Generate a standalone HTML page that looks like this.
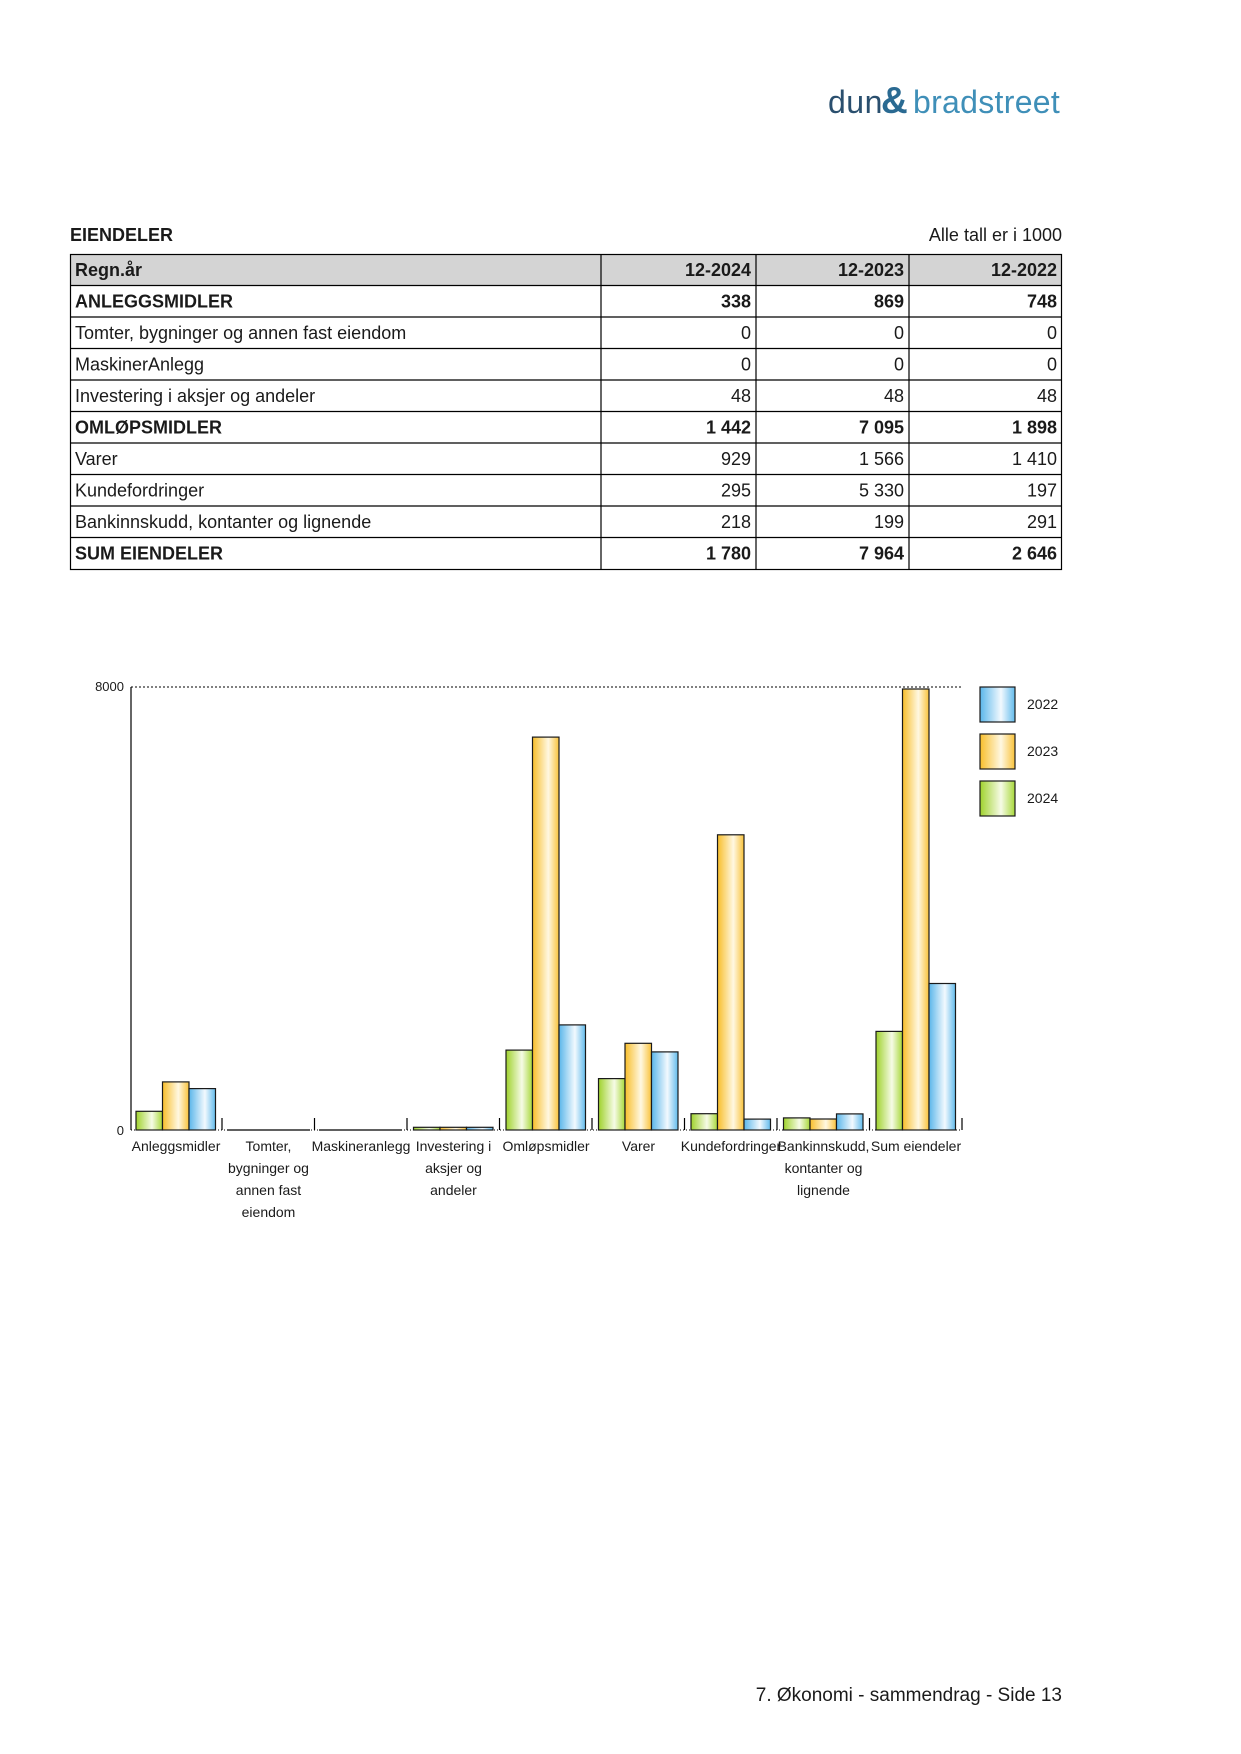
<!DOCTYPE html>
<html><head><meta charset="utf-8"><style>
html,body{margin:0;padding:0;background:#fff;}
svg{display:block;}
text{font-family:"Liberation Sans",sans-serif;fill:#1a1a1a;}
</style></head><body>
<svg width="1241" height="1754" viewBox="0 0 1241 1754" xmlns="http://www.w3.org/2000/svg">
<defs>
<linearGradient id="gG" x1="0" x2="1" y1="0" y2="0"><stop offset="0" stop-color="#9fd22c"/><stop offset="0.6" stop-color="#f6fbe6"/><stop offset="1" stop-color="#a8d83a"/></linearGradient>
<linearGradient id="gO" x1="0" x2="1" y1="0" y2="0"><stop offset="0" stop-color="#f8be2a"/><stop offset="0.6" stop-color="#fff8e2"/><stop offset="1" stop-color="#f9c23a"/></linearGradient>
<linearGradient id="gB" x1="0" x2="1" y1="0" y2="0"><stop offset="0" stop-color="#5ab6ea"/><stop offset="0.6" stop-color="#f2f9fe"/><stop offset="1" stop-color="#62bbec"/></linearGradient>
</defs>

<!-- logo -->
<text x="828" y="113" font-size="32" style="fill:#2a4f6e;letter-spacing:0.5px">dun</text>
<text x="881" y="113" font-size="37" font-weight="bold" style="fill:#2a6a92">&amp;</text>
<text x="913" y="113" font-size="32" style="fill:#3f8fb8;letter-spacing:0.3px">bradstreet</text>

<!-- table -->
<text x="70" y="241" font-size="18" font-weight="bold">EIENDELER</text>
<text x="1062" y="241" font-size="18" text-anchor="end">Alle tall er i 1000</text>
<rect x="70" y="254" width="992" height="31.5" fill="#d4d4d4"/>
<g stroke="#000" stroke-width="1.2" fill="none">
<rect x="70.5" y="254.5" width="991" height="315"/>
<line x1="601" y1="254" x2="601" y2="569"/>
<line x1="756" y1="254" x2="756" y2="569"/>
<line x1="909" y1="254" x2="909" y2="569"/>
<line x1="70" y1="285.5" x2="1062" y2="285.5"/>
<line x1="70" y1="317" x2="1062" y2="317"/>
<line x1="70" y1="348.5" x2="1062" y2="348.5"/>
<line x1="70" y1="380" x2="1062" y2="380"/>
<line x1="70" y1="411.5" x2="1062" y2="411.5"/>
<line x1="70" y1="443" x2="1062" y2="443"/>
<line x1="70" y1="474.5" x2="1062" y2="474.5"/>
<line x1="70" y1="506" x2="1062" y2="506"/>
<line x1="70" y1="537.5" x2="1062" y2="537.5"/>
</g>
<g font-size="18">
<text x="75" y="276" font-weight="bold">Regn.år</text>
<text x="751" y="276" text-anchor="end" font-weight="bold">12-2024</text>
<text x="904" y="276" text-anchor="end" font-weight="bold">12-2023</text>
<text x="1057" y="276" text-anchor="end" font-weight="bold">12-2022</text>

<text x="75" y="307.5" font-weight="bold">ANLEGGSMIDLER</text>
<text x="751" y="307.5" text-anchor="end" font-weight="bold">338</text>
<text x="904" y="307.5" text-anchor="end" font-weight="bold">869</text>
<text x="1057" y="307.5" text-anchor="end" font-weight="bold">748</text>

<text x="75" y="339">Tomter, bygninger og annen fast eiendom</text>
<text x="751" y="339" text-anchor="end">0</text>
<text x="904" y="339" text-anchor="end">0</text>
<text x="1057" y="339" text-anchor="end">0</text>

<text x="75" y="370.5">MaskinerAnlegg</text>
<text x="751" y="370.5" text-anchor="end">0</text>
<text x="904" y="370.5" text-anchor="end">0</text>
<text x="1057" y="370.5" text-anchor="end">0</text>

<text x="75" y="402">Investering i aksjer og andeler</text>
<text x="751" y="402" text-anchor="end">48</text>
<text x="904" y="402" text-anchor="end">48</text>
<text x="1057" y="402" text-anchor="end">48</text>

<text x="75" y="433.5" font-weight="bold">OMLØPSMIDLER</text>
<text x="751" y="433.5" text-anchor="end" font-weight="bold">1 442</text>
<text x="904" y="433.5" text-anchor="end" font-weight="bold">7 095</text>
<text x="1057" y="433.5" text-anchor="end" font-weight="bold">1 898</text>

<text x="75" y="465">Varer</text>
<text x="751" y="465" text-anchor="end">929</text>
<text x="904" y="465" text-anchor="end">1 566</text>
<text x="1057" y="465" text-anchor="end">1 410</text>

<text x="75" y="496.5">Kundefordringer</text>
<text x="751" y="496.5" text-anchor="end">295</text>
<text x="904" y="496.5" text-anchor="end">5 330</text>
<text x="1057" y="496.5" text-anchor="end">197</text>

<text x="75" y="528">Bankinnskudd, kontanter og lignende</text>
<text x="751" y="528" text-anchor="end">218</text>
<text x="904" y="528" text-anchor="end">199</text>
<text x="1057" y="528" text-anchor="end">291</text>

<text x="75" y="559.5" font-weight="bold">SUM EIENDELER</text>
<text x="751" y="559.5" text-anchor="end" font-weight="bold">1 780</text>
<text x="904" y="559.5" text-anchor="end" font-weight="bold">7 964</text>
<text x="1057" y="559.5" text-anchor="end" font-weight="bold">2 646</text>
</g>

<!-- chart axes -->
<line x1="131" y1="687" x2="962" y2="687" stroke="#000" stroke-width="1" stroke-dasharray="2,2"/>
<line x1="131" y1="1130" x2="962" y2="1130" stroke="#000" stroke-width="1" stroke-dasharray="1,2"/>
<line x1="131" y1="687" x2="131" y2="1130" stroke="#000" stroke-width="1.2"/>
<text x="124" y="691" font-size="13" text-anchor="end">8000</text>
<text x="124" y="1135" font-size="13" text-anchor="end">0</text>
<g stroke="#000" stroke-width="1.2">
<line x1="222" y1="1118" x2="222" y2="1130"/>
<line x1="314.5" y1="1118" x2="314.5" y2="1130"/>
<line x1="407" y1="1118" x2="407" y2="1130"/>
<line x1="499.5" y1="1118" x2="499.5" y2="1130"/>
<line x1="592" y1="1118" x2="592" y2="1130"/>
<line x1="684.5" y1="1118" x2="684.5" y2="1130"/>
<line x1="777" y1="1118" x2="777" y2="1130"/>
<line x1="869.5" y1="1118" x2="869.5" y2="1130"/>
<line x1="962" y1="1118" x2="962" y2="1130"/>
<line x1="227" y1="1130" x2="310" y2="1130"/>
<line x1="319" y1="1130" x2="402" y2="1130"/>
</g>

<!-- bars -->
<g stroke="#1a1a1a" stroke-width="1.2">
<rect x="136" y="1111.3" width="26.5" height="18.7" fill="url(#gG)"/>
<rect x="162.5" y="1081.9" width="26.5" height="48.1" fill="url(#gO)"/>
<rect x="189" y="1088.6" width="26.5" height="41.4" fill="url(#gB)"/>

<rect x="413.5" y="1127.3" width="26.5" height="2.7" fill="url(#gG)"/>
<rect x="440" y="1127.3" width="26.5" height="2.7" fill="url(#gO)"/>
<rect x="466.5" y="1127.3" width="26.5" height="2.7" fill="url(#gB)"/>

<rect x="506" y="1050.1" width="26.5" height="79.9" fill="url(#gG)"/>
<rect x="532.5" y="737.1" width="26.5" height="392.9" fill="url(#gO)"/>
<rect x="559" y="1024.9" width="26.5" height="105.1" fill="url(#gB)"/>

<rect x="598.5" y="1078.6" width="26.5" height="51.4" fill="url(#gG)"/>
<rect x="625" y="1043.3" width="26.5" height="86.7" fill="url(#gO)"/>
<rect x="651.5" y="1051.9" width="26.5" height="78.1" fill="url(#gB)"/>

<rect x="691" y="1113.7" width="26.5" height="16.3" fill="url(#gG)"/>
<rect x="717.5" y="834.8" width="26.5" height="295.2" fill="url(#gO)"/>
<rect x="744" y="1119.1" width="26.5" height="10.9" fill="url(#gB)"/>

<rect x="783.5" y="1117.9" width="26.5" height="12.1" fill="url(#gG)"/>
<rect x="810" y="1119" width="26.5" height="11" fill="url(#gO)"/>
<rect x="836.5" y="1113.9" width="26.5" height="16.1" fill="url(#gB)"/>

<rect x="876" y="1031.4" width="26.5" height="98.6" fill="url(#gG)"/>
<rect x="902.5" y="689" width="26.5" height="441" fill="url(#gO)"/>
<rect x="929" y="983.5" width="26.5" height="146.5" fill="url(#gB)"/>

<!-- legend boxes -->
<rect x="980" y="687" width="35" height="35" fill="url(#gB)"/>
<rect x="980" y="734" width="35" height="35" fill="url(#gO)"/>
<rect x="980" y="781" width="35" height="35" fill="url(#gG)"/>
</g>
<g font-size="14">
<text x="1027" y="709">2022</text>
<text x="1027" y="756">2023</text>
<text x="1027" y="803">2024</text>
</g>

<!-- category labels -->
<g font-size="14" text-anchor="middle">
<text x="176" y="1151">Anleggsmidler</text>
<text x="268.5" y="1151">Tomter,</text>
<text x="268.5" y="1173">bygninger og</text>
<text x="268.5" y="1195">annen fast</text>
<text x="268.5" y="1217">eiendom</text>
<text x="361" y="1151">Maskineranlegg</text>
<text x="453.5" y="1151">Investering i</text>
<text x="453.5" y="1173">aksjer og</text>
<text x="453.5" y="1195">andeler</text>
<text x="546" y="1151">Omløpsmidler</text>
<text x="638.5" y="1151">Varer</text>
<text x="731" y="1151">Kundefordringer</text>
<text x="823.5" y="1151">Bankinnskudd,</text>
<text x="823.5" y="1173">kontanter og</text>
<text x="823.5" y="1195">lignende</text>
<text x="916" y="1151">Sum eiendeler</text>
</g>

<!-- footer -->
<text x="1062" y="1701" font-size="19" text-anchor="end">7. Økonomi - sammendrag - Side 13</text>
</svg>
</body></html>
